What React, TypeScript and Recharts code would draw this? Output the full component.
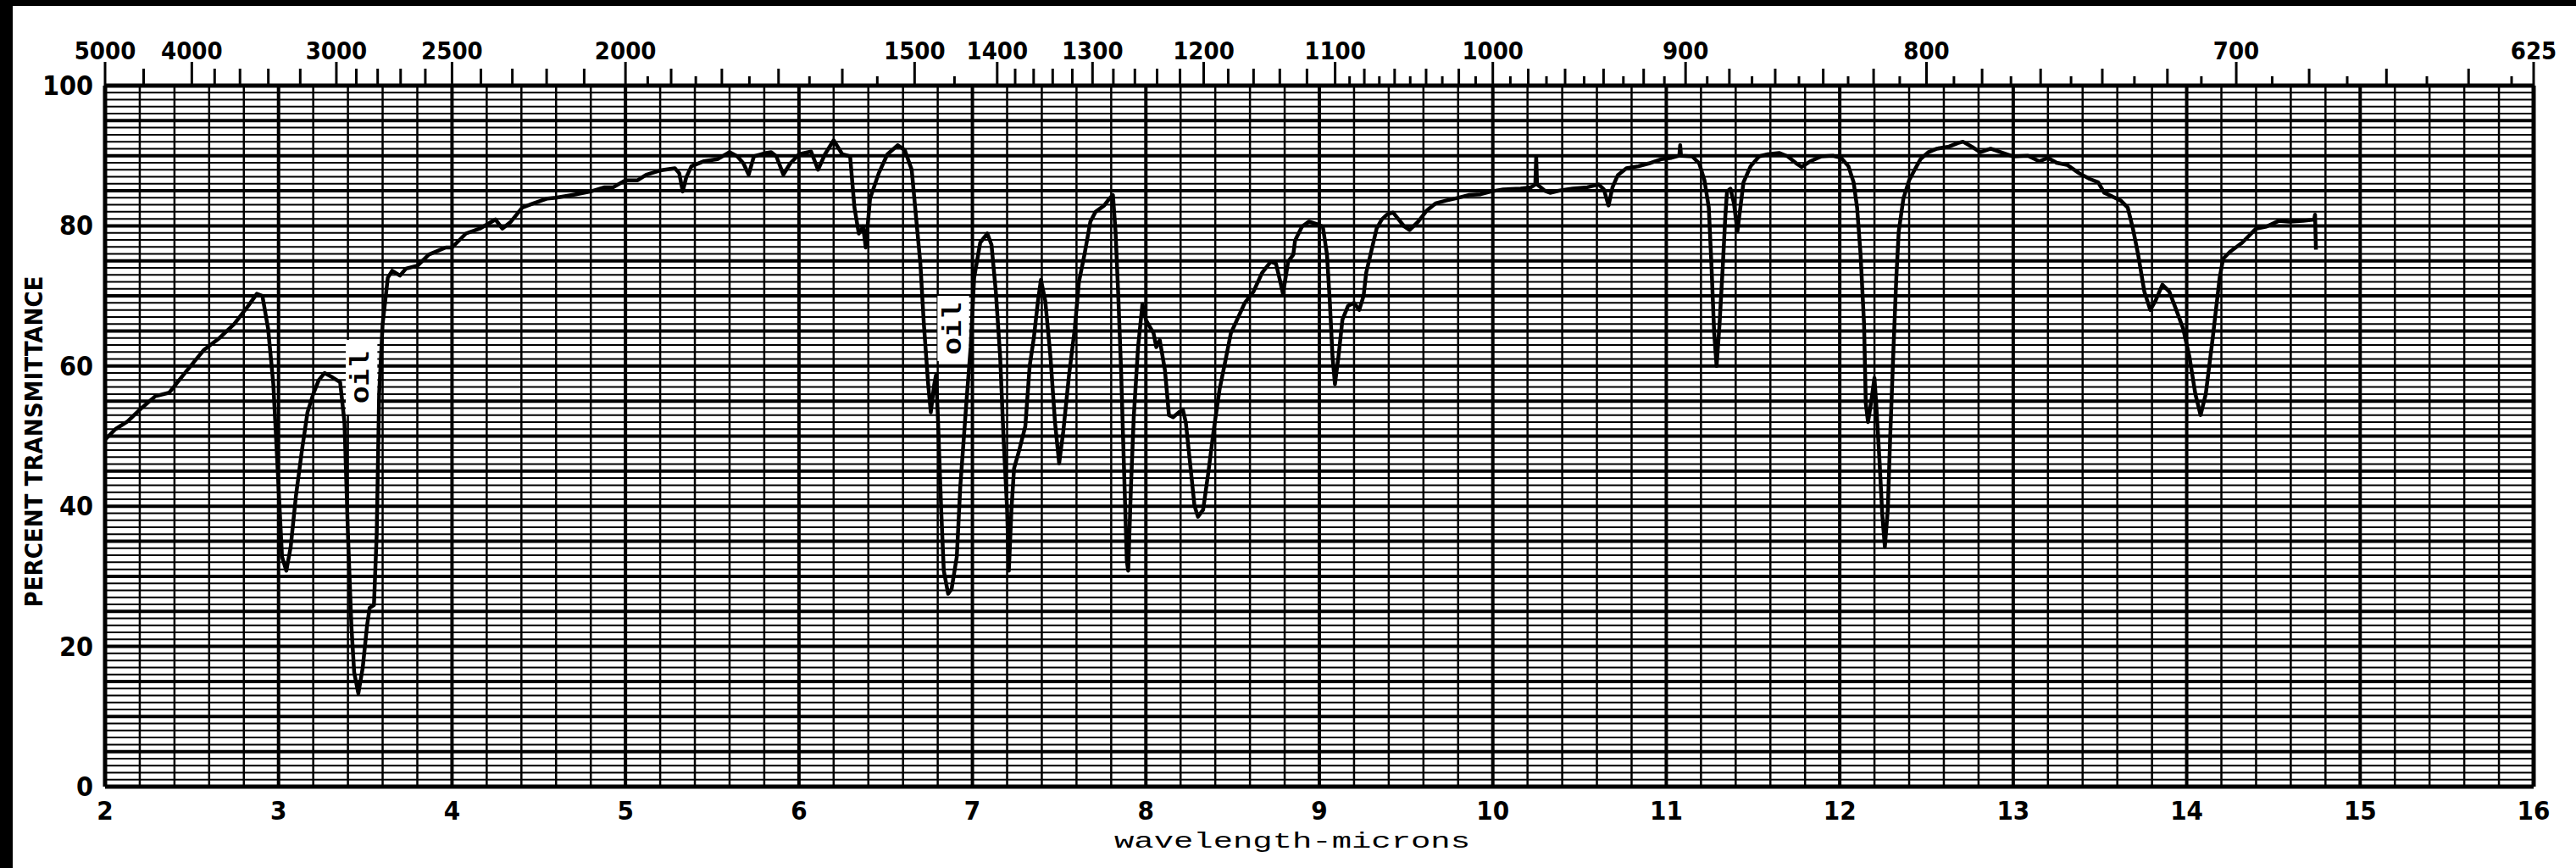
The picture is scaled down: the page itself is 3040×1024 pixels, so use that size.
import React from 'react'
import { ComposedChart, Line, XAxis, YAxis, CartesianGrid, ReferenceLine, ReferenceArea } from 'recharts'

// wavelength in microns
const wavelength = [
  2.0, 2.06, 2.13, 2.21, 2.29, 2.37, 2.45, 2.51, 2.57, 2.66, 2.745, 2.826, 2.875, 2.907, 2.94, 2.97,
  3.0, 3.02, 3.045, 3.07, 3.1, 3.135, 3.167, 3.2, 3.232, 3.265, 3.31, 3.355, 3.38, 3.4, 3.42, 3.436,
  3.46, 3.485, 3.51, 3.525, 3.55, 3.566, 3.58, 3.6, 3.63, 3.655, 3.7, 3.735, 3.8, 3.866, 3.964, 4.0,
  4.08, 4.16, 4.25, 4.29, 4.34, 4.405, 4.47, 4.55, 4.6, 4.715, 4.8, 4.88, 4.93, 5.0, 5.07, 5.12,
  5.2, 5.285, 5.31, 5.33, 5.35, 5.38, 5.45, 5.53, 5.6, 5.645, 5.68, 5.71, 5.74, 5.81, 5.84, 5.87,
  5.91, 5.95, 6.0, 6.07, 6.11, 6.15, 6.2, 6.25, 6.295, 6.32, 6.345, 6.37, 6.385, 6.41, 6.46, 6.51,
  6.57, 6.61, 6.65, 6.67, 6.7, 6.72, 6.745, 6.76, 6.78, 6.79, 6.8, 6.82, 6.835, 6.86, 6.88, 6.91,
  6.93, 6.965, 6.99, 7.01, 7.045, 7.086, 7.11, 7.135, 7.16, 7.18, 7.2, 7.21, 7.225, 7.24, 7.27, 7.305,
  7.33, 7.354, 7.378, 7.395, 7.42, 7.45, 7.476, 7.5, 7.524, 7.557, 7.59, 7.614, 7.646, 7.68, 7.71, 7.76,
  7.79, 7.81, 7.825, 7.84, 7.857, 7.873, 7.89, 7.898, 7.914, 7.93, 7.955, 7.98, 8.0, 8.02, 8.044, 8.06,
  8.08, 8.11, 8.133, 8.157, 8.19, 8.214, 8.23, 8.255, 8.28, 8.3, 8.33, 8.36, 8.39, 8.425, 8.458, 8.49,
  8.52, 8.57, 8.62, 8.67, 8.72, 8.75, 8.775, 8.79, 8.81, 8.82, 8.85, 8.86, 8.9, 8.94, 8.99, 9.02,
  9.044, 9.06, 9.076, 9.09, 9.11, 9.133, 9.166, 9.2, 9.23, 9.255, 9.27, 9.295, 9.33, 9.36, 9.39, 9.425,
  9.457, 9.49, 9.52, 9.57, 9.62, 9.67, 9.73, 9.8, 9.864, 9.93, 9.99, 10.06, 10.16, 10.22, 10.245, 10.25,
  10.255, 10.3, 10.33, 10.38, 10.46, 10.545, 10.61, 10.64, 10.667, 10.69, 10.72, 10.77, 10.84, 10.9, 10.97, 11.03,
  11.075, 11.08, 11.085, 11.15, 11.19, 11.22, 11.245, 11.26, 11.276, 11.29, 11.307, 11.325, 11.34, 11.35, 11.37, 11.39,
  11.41, 11.43, 11.445, 11.486, 11.535, 11.584, 11.65, 11.7, 11.75, 11.78, 11.83, 11.894, 11.96, 12.008, 12.05, 12.08,
  12.1, 12.12, 12.14, 12.15, 12.163, 12.18, 12.2, 12.21, 12.23, 12.245, 12.26, 12.277, 12.29, 12.31, 12.326, 12.34,
  12.367, 12.4, 12.43, 12.465, 12.51, 12.56, 12.63, 12.68, 12.71, 12.76, 12.81, 12.87, 12.94, 13.0, 13.085, 13.15,
  13.2, 13.25, 13.31, 13.38, 13.44, 13.49, 13.525, 13.57, 13.62, 13.66, 13.69, 13.72, 13.756, 13.79, 13.82, 13.86,
  13.9, 13.94, 13.98, 14.016, 14.05, 14.08, 14.11, 14.15, 14.19, 14.21, 14.25, 14.32, 14.4, 14.46, 14.53, 14.59,
  14.67, 14.735, 14.74, 14.745,
]

// percent transmittance at each wavelength above
const transmittance = [
  49.5, 51, 52.1, 54, 55.7, 56.2, 58.7, 60.5, 62.3, 64, 66, 68.6, 70.3, 70, 65.3, 57.4,
  42.8, 32.8, 30.8, 34.2, 41.4, 48, 53.4, 56, 58, 59, 58.4, 57.7, 52, 36.1, 22.9, 16.3,
  13.3, 16.9, 22.9, 25.5, 25.9, 36.1, 56, 66, 72.6, 73.6, 72.9, 73.9, 74.3, 75.9, 76.9, 76.9,
  78.9, 79.6, 80.9, 79.6, 80.6, 82.6, 83.2, 83.9, 84, 84.5, 84.9, 85.5, 85.5, 86.5, 86.5, 87.3,
  87.9, 88.2, 87.5, 84.9, 86.9, 88.5, 89.2, 89.5, 90.5, 89.9, 88.9, 87.3, 89.9, 90.4, 90.5, 89.9,
  87.3, 88.9, 90.2, 90.6, 88, 90.2, 92.2, 90.2, 89.9, 82.6, 78.9, 79.9, 76.9, 83.9, 87.5, 90.2,
  91.5, 90.8, 88, 82.6, 74.6, 66, 57.4, 53.4, 57.4, 58.7, 53.4, 39.5, 30.8, 27.5, 28.2, 32.8,
  42.8, 54.7, 62.7, 72.6, 77.6, 78.9, 77.3, 70.6, 61.3, 49.4, 39.5, 30.8, 39.5, 45.4, 48, 51.4,
  60, 64, 69.3, 72.3, 69.3, 61.3, 52, 46.1, 50.7, 58.7, 65.3, 72, 75.9, 80.6, 82, 82.9,
  83.9, 84.4, 79.2, 70.6, 59.4, 46.1, 32.2, 30.8, 42.8, 52.7, 62.7, 68.8, 66.6, 65.7, 64.7, 62.7,
  63.7, 59.4, 53, 52.7, 53.4, 53.7, 52, 46.1, 40.1, 38.5, 39.5, 44.8, 50.7, 56.7, 60.7, 64.7,
  66.3, 69, 70.6, 73.3, 74.9, 74.6, 72, 70.3, 73.3, 74.9, 75.9, 77.9, 79.9, 80.6, 80.2, 79.9,
  75.9, 69.3, 61.3, 57.4, 61.3, 66.6, 68.6, 69, 68, 70, 73.3, 75.9, 79.6, 80.9, 81.6, 81.9,
  80.9, 79.9, 79.4, 80.6, 82.2, 83.2, 83.6, 84, 84.4, 84.5, 84.9, 85.2, 85.3, 85.5, 85.9, 89.9,
  85.9, 85, 84.7, 85, 85.3, 85.5, 85.9, 85.2, 82.9, 85.5, 87.2, 88.2, 88.5, 88.9, 89.5, 89.7,
  90, 91.5, 90, 89.9, 88.9, 86.5, 82.6, 74.6, 64.7, 60, 66, 73.9, 81.2, 84.9, 85.3, 83.2,
  79.2, 83.2, 86.2, 88.5, 89.9, 90.2, 90.4, 89.9, 88.9, 88.4, 89.2, 89.9, 90, 89.7, 88.5, 86.2,
  82.6, 75.9, 66, 54.7, 52, 54.7, 58.3, 54.7, 46.1, 38.8, 34.2, 39.5, 49.4, 62.7, 72.6, 79.2,
  83.9, 86.5, 87.9, 89.5, 90.5, 91, 91.3, 91.8, 92, 91.3, 90.5, 91, 90.4, 89.9, 90, 89.2,
  89.7, 89, 88.7, 87.5, 86.7, 86.2, 84.7, 84.2, 83.6, 82.6, 79.6, 75.9, 70.6, 68, 69.3, 71.6,
  70.6, 68, 65.3, 61.3, 56, 53, 56, 64, 72.6, 75.3, 76.3, 77.6, 79.6, 79.9, 80.7, 80.6,
  80.7, 80.9, 81.6, 76.6,
]

const micronTicks = [2, 3, 4, 5, 6, 7, 8, 9, 10, 11, 12, 13, 14, 15, 16]
const percentTicks = [0, 20, 40, 60, 80, 100]
const labeledWavenumbers = [5000, 4000, 3000, 2500, 2000, 1500, 1400, 1300, 1200, 1100, 1000, 900, 800, 700, 625]
const oddWavenumbers = [4500, 3800, 3600, 3400, 3200]
// [from, to, step] runs of minor marks on the cm-1 scale
const wavenumberRuns = [
  [3000, 2000, 100],
  [2000, 1400, 50],
  [1400, 1100, 20],
  [1100, 630, 10],
]

const spectrum = wavelength.map((um, i) => ({ um, t: transmittance[i] }))

const wavenumbers: number[] = [...labeledWavenumbers, ...oddWavenumbers]
wavenumberRuns.forEach(([from, to, step]) => {
  for (let w = from; w >= to; w -= step) wavenumbers.push(w)
})
const topTicks = Array.from(new Set(wavenumbers)).sort((a, b) => b - a).map((w) => 10000 / w)

// chart paper rulings
const percentLines = Array.from({ length: 101 }, (_, i) => i)
const percentMajor = percentLines.filter((p) => p % 5 === 0)
const micronLines = Array.from({ length: 71 }, (_, i) => Math.round((2 + i * 0.2) * 10) / 10)
const micronMajor = micronLines.filter((m) => Number.isInteger(m))

const digitFont = "'Liberation Sans Narrow', 'DejaVu Sans Condensed', sans-serif"
const monoFont = "'Liberation Mono', 'DejaVu Sans Mono', monospace"

function TopTick({ x, y, payload }: any) {
  const wn = Math.round(10000 / payload.value)
  const labeled = labeledWavenumbers.includes(wn)
  const medium = wn >= 1500 ? wn % 100 === 0 : wn % 20 === 0
  const len = labeled ? 28 : medium ? 20 : 11
  return (
    <g>
      <line x1={x} x2={x} y1={y} y2={y - len} stroke="#000" strokeWidth={3} />
      {labeled && (
        <text x={x} y={y - 31} textAnchor="middle" fontFamily={digitFont} fontWeight="bold" fontSize={29} fill="#000">
          {wn}
        </text>
      )}
    </g>
  )
}

function BottomTick({ x, y, payload }: any) {
  return (
    <text x={x} y={y + 28} textAnchor="middle" dominantBaseline="central" fontFamily={digitFont} fontWeight="bold" fontSize={31} fill="#000">
      {payload.value}
    </text>
  )
}

function LeftTick({ x, y, payload }: any) {
  return (
    <text x={x - 14} y={y} textAnchor="end" dominantBaseline="central" fontFamily={digitFont} fontWeight="bold" fontSize={32} fill="#000">
      {payload.value}
    </text>
  )
}

// white patch on the chart paper with the rotated note
function oilLabel({ viewBox }: any) {
  const cx = viewBox.x + viewBox.width / 2
  const cy = viewBox.y + viewBox.height / 2
  return (
    <g>
      <rect x={viewBox.x} y={viewBox.y} width={viewBox.width} height={viewBox.height} fill="#fff" />
      <text
        x={cx}
        y={cy}
        transform={`rotate(-90 ${cx} ${cy})`}
        textAnchor="middle"
        dominantBaseline="central"
        textLength={62}
        lengthAdjust="spacingAndGlyphs"
        fontFamily={monoFont}
        fontWeight="bold"
        fontSize={32}
        fill="#000"
      >
        oil
      </text>
    </g>
  )
}

export default function App() {
  return (
    <div style={{ position: 'relative', width: 3040, height: 1024, background: '#fff', overflow: 'hidden' }}>
      <style>{'body{margin:0}'}</style>
      <ComposedChart width={3040} height={1024} data={spectrum} margin={{ top: 0, right: 50, bottom: 0, left: 0 }}>
        <CartesianGrid vertical={false} horizontalValues={percentLines} stroke="#000" strokeWidth={2} />
        <CartesianGrid vertical={false} horizontalValues={percentMajor} stroke="#000" strokeWidth={4} />
        <CartesianGrid horizontal={false} verticalValues={micronLines} stroke="#000" strokeWidth={2.5} />
        <CartesianGrid horizontal={false} verticalValues={micronMajor} stroke="#000" strokeWidth={4} />
        <XAxis
          dataKey="um"
          type="number"
          domain={[2, 16]}
          allowDataOverflow
          ticks={micronTicks}
          interval={0}
          height={96}
          tickSize={0}
          tickMargin={0}
          axisLine={false}
          tick={<BottomTick />}
          label={{
            content: () => (
              <text x={1525} y={1000} textAnchor="middle" textLength={420} lengthAdjust="spacingAndGlyphs" fontFamily={monoFont} fontSize={25} fill="#000">
                wavelength-microns
              </text>
            ),
          }}
        />
        <XAxis
          xAxisId="top"
          dataKey="um"
          orientation="top"
          type="number"
          domain={[2, 16]}
          allowDataOverflow
          ticks={topTicks}
          interval={0}
          height={101}
          tickSize={0}
          tickMargin={0}
          axisLine={false}
          tick={<TopTick />}
        />
        <YAxis
          type="number"
          domain={[0, 100]}
          allowDataOverflow
          ticks={percentTicks}
          interval={0}
          width={124}
          tickSize={0}
          tickMargin={0}
          axisLine={false}
          tick={<LeftTick />}
          label={{
            content: () => (
              <text
                x={40}
                y={521}
                transform="rotate(-90 40 521)"
                textAnchor="middle"
                dominantBaseline="central"
                textLength={391}
                lengthAdjust="spacingAndGlyphs"
                fontFamily={digitFont}
                fontWeight="bold"
                fontSize={29}
                fill="#000"
              >
                PERCENT TRANSMITTANCE
              </text>
            ),
          }}
        />

        <ReferenceArea x1={3.388} x2={3.569} y1={53.1} y2={63.7} fill="#fff" fillOpacity={1} stroke="none" label={oilLabel} />
        <ReferenceArea x1={6.8} x2={6.98} y1={60.7} y2={70} fill="#fff" fillOpacity={1} stroke="none" label={oilLabel} />

        {/* heavy frame */}
        <ReferenceLine y={100} stroke="#000" strokeWidth={5} />
        <ReferenceLine y={0} stroke="#000" strokeWidth={5} />
        <ReferenceLine x={2} stroke="#000" strokeWidth={5} />
        <ReferenceLine x={16} stroke="#000" strokeWidth={5} />

        <Line
          type="linear"
          dataKey="t"
          stroke="#000"
          strokeWidth={4.5}
          strokeLinejoin="round"
          dot={false}
          activeDot={false}
          isAnimationActive={false}
        />
      </ComposedChart>
      <div style={{ position: 'absolute', left: 0, top: 0, width: 3040, height: 7, background: '#000' }} />
      <div style={{ position: 'absolute', left: 0, top: 0, width: 15, height: 1024, background: '#000' }} />
    </div>
  )
}
